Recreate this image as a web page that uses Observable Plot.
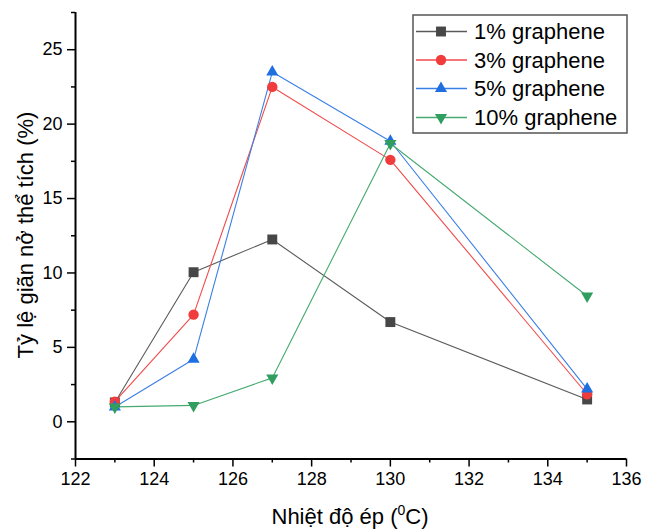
<!DOCTYPE html>
<html>
<head>
<meta charset="utf-8">
<script src="https://cdn.jsdelivr.net/npm/d3@7"></script>
<script src="https://cdn.jsdelivr.net/npm/@observablehq/plot@0.6"></script>
<style>
  html, body { margin: 0; padding: 0; background: #fff; }
  #chart { width: 645px; height: 531px; }
</style>
</head>
<body>
<div id="chart"></div>
<script>
// ---- data ----
const temps = [123, 125, 127, 130, 135];
const seriesNames = ["1% graphene", "3% graphene", "5% graphene", "10% graphene"];
const s1 = [1.3, 10.05, 12.25, 6.7, 1.5];
const s3 = [1.35, 7.2, 22.5, 17.6, 1.85];
const s5 = [1.0, 4.2, 23.5, 18.85, 2.2];
const s10 = [1.0, 1.1, 2.95, 18.7, 8.45];
const xTicks = [122, 124, 126, 128, 130, 132, 134, 136];
const xMinor = [123, 125, 127, 129, 131, 133, 135];
const yTicks = [0, 5, 10, 15, 20, 25];
const yMinor = [-2.5, 2.5, 7.5, 12.5, 17.5, 22.5, 27.5];
const xTitle = "Nhiệt độ ép (";
const yTitle = "Tỷ lệ giãn nở thể tích (%)";

// ---- styles ----
const styles = [
  {line: "#5a5a5a", fill: "#474747", symbol: "square", r: 5.6, rotate: 0},
  {line: "#f24a4a", fill: "#f03c3c", symbol: "circle", r: 5.2, rotate: 0},
  {line: "#3a7fe6", fill: "#1f6fe0", symbol: "triangle", r: 4.5, rotate: 0},
  {line: "#46aa70", fill: "#2f9e5e", symbol: "triangle", r: 4.5, rotate: 180}
];
const allSeries = [s1, s3, s5, s10];
const tables = allSeries.map((vals, i) => temps.map((t, j) => ({x: t, y: vals[j], s: seriesNames[i]})));

const font = "'Liberation Sans', Arial, sans-serif";
const marks = [
  Plot.axisX({ticks: xTicks, tickSize: 8, tickPadding: 5, fontSize: 18, label: null, strokeWidth: 1.5, fill: "#000"}),
  Plot.axisX({ticks: xMinor, tickSize: 4, tickFormat: () => "", label: null, strokeWidth: 1.5}),
  Plot.axisY({ticks: yTicks, tickSize: 8, tickPadding: 5, fontSize: 18, label: null, strokeWidth: 1.5, fill: "#000"}),
  Plot.axisY({ticks: yMinor, tickSize: 4, tickFormat: () => "", label: null, strokeWidth: 1.5}),
  Plot.ruleX([122], {stroke: "#000", strokeWidth: 2}),
  Plot.ruleY([-2.5], {stroke: "#000", strokeWidth: 2})
];
tables.forEach((tb, i) => {
  const st = styles[i];
  marks.push(Plot.line(tb, {x: "x", y: "y", stroke: st.line, strokeWidth: 1.1}));
});
tables.forEach((tb, i) => {
  const st = styles[i];
  marks.push(Plot.dot(tb, {x: "x", y: "y", symbol: () => st.symbol, fill: st.fill, stroke: "none", r: st.r, rotate: st.rotate}));
});

const chart = Plot.plot({
  width: 645,
  height: 531,
  marginLeft: 75,
  marginRight: 19,
  marginTop: 12,
  marginBottom: 72.5,
  x: {domain: [122, 136]},
  y: {domain: [-2.5, 27.5]},
  symbol: {type: "identity"},
  style: {fontFamily: font, background: "#fff", color: "#000"},
  marks
});
document.getElementById("chart").appendChild(chart);

// ---- titles and legend ----
const svg = d3.select(chart);
const xt = svg.append("text")
  .attr("x", 350).attr("y", 524)
  .attr("text-anchor", "middle")
  .style("font-family", font).style("font-size", "22px").attr("fill", "#000");
xt.append("tspan").text(xTitle);
xt.append("tspan").attr("dy", -9).style("font-size", "14px").text("0");
xt.append("tspan").attr("dy", 9).text("C)");

svg.append("text")
  .attr("transform", "translate(33,235) rotate(-90)")
  .attr("text-anchor", "middle")
  .style("font-family", font).style("font-size", "22px").attr("fill", "#000")
  .text(yTitle);

const lg = svg.append("g");
lg.append("rect").attr("x", 413).attr("y", 15).attr("width", 214).attr("height", 118)
  .attr("fill", "#fff").attr("stroke", "#555").attr("stroke-width", 1.5);
const rowsY = [31.5, 60, 88.5, 117.5];
const symMap = {square: d3.symbolSquare, circle: d3.symbolCircle, triangle: d3.symbolTriangle};
seriesNames.forEach((name, i) => {
  const st = styles[i];
  const y = rowsY[i];
  lg.append("line").attr("x1", 416).attr("x2", 467).attr("y1", y).attr("y2", y)
    .attr("stroke", st.line).attr("stroke-width", 1.3);
  lg.append("path")
    .attr("d", d3.symbol(symMap[st.symbol], Math.PI * st.r * st.r)())
    .attr("transform", `translate(441,${y}) rotate(${st.rotate})`)
    .attr("fill", st.fill);
  lg.append("text").attr("x", 474).attr("y", y).attr("dy", "0.36em")
    .attr("text-anchor", "start")
    .style("font-family", font).style("font-size", "22px").attr("fill", "#000")
    .text(name);
});
</script>
</body>
</html>
